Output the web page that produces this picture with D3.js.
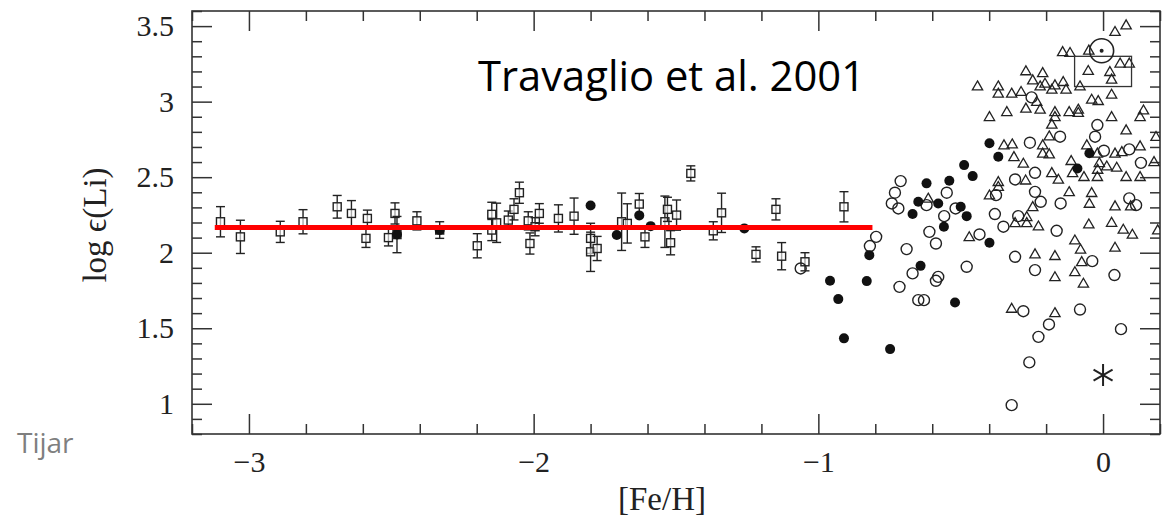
<!DOCTYPE html>
<html>
<head>
<meta charset="utf-8">
<script src="https://cdn.jsdelivr.net/npm/d3@7"></script>
<style>
  body { margin:0; background:#fff; }
  svg text { fill:#222; }
  .tick line { stroke:#333; stroke-width:1.5; }
  .tick text { font-family:"Liberation Serif", serif; font-size:30px; fill:#222; }
</style>
</head>
<body>
<div id="chart"></div>
<script>
// halo stars with error bars: [Fe/H], log eps(Li), error
var haloFe  = [-3.10,-3.03,-2.89,-2.81,-2.69,-2.64,-2.584,-2.589,-2.51,-2.487,-2.48,-2.41,-2.33,-2.198,-2.147,-2.147,-2.13,-2.089,-2.069,-2.05,-2.019,-2.013,-1.995,-1.98,-1.913,
               -1.858,-1.80,-1.80,-1.777,-1.691,-1.671,-1.629,-1.609,-1.539,-1.53,-1.498,-1.519,-1.448,-1.369,-1.34,-1.219,-1.149,-1.129,-1.047,-0.91];
var haloLi  = [2.205,2.105,2.138,2.205,2.304,2.26,2.227,2.095,2.10,2.26,2.12,2.211,2.15,2.046,2.254,2.15,2.198,2.216,2.287,2.397,2.211,2.061,2.172,2.26,2.227,
               2.242,2.095,2.006,2.028,2.205,2.194,2.322,2.105,2.205,2.287,2.249,2.066,2.525,2.145,2.264,1.989,2.287,1.977,1.94,2.304];
var haloErr = [0.10,0.11,0.07,0.08,0.075,0.085,0.055,0.06,0.055,0.07,0.12,0.06,0.055,0.08,0.08,0.07,0.13,0.06,0.07,0.07,0.06,0.07,0.06,0.065,0.09,
               0.12,0.10,0.13,0.08,0.19,0.13,0.07,0.07,0.17,0.08,0.10,0.08,0.05,0.06,0.13,0.05,0.07,0.09,0.06,0.10];

// filled circles
var filledFe = [-2.48,-2.33,-1.80,-1.708,-1.629,-1.589,-1.26,-0.959,-0.93,-0.91,-0.83,-0.821,-0.748,
                -0.399,-0.368,-0.488,-0.458,-0.54,-0.62,-0.649,-0.579,-0.669,-0.5,-0.479,-0.559,-0.399,-0.641,-0.52,-0.048,-0.09];
var filledLi = [2.12,2.15,2.313,2.117,2.247,2.176,2.161,1.814,1.693,1.433,1.812,1.984,1.362,
                2.724,2.635,2.58,2.507,2.476,2.459,2.337,2.326,2.256,2.304,2.242,2.172,2.066,1.913,1.671,2.658,2.558];

// open circles
var openFe = [-1.062,-0.819,-0.797,-0.715,-0.711,-0.731,-0.742,-0.719,-0.549,-0.62,-0.518,-0.558,-0.61,-0.587,-0.69,-0.479,-0.669,-0.579,-0.587,
              -0.649,-0.629,-0.434,-0.38,-0.35,-0.376,-0.309,-0.239,-0.239,-0.219,-0.298,-0.149,-0.163,-0.309,-0.239,-0.28,-0.19,-0.227,-0.259,-0.321,
              -0.081,-0.038,0.04,0.063,0.003,0.092,0.133,0.092,0.116,-0.257,-0.251,-0.02,-0.028,-0.151];
var openLi = [1.896,2.044,2.105,1.774,2.474,2.397,2.326,2.293,2.397,2.315,2.293,2.242,2.138,2.061,2.024,1.907,1.863,1.84,1.814,
              1.686,1.686,2.121,2.256,2.172,2.381,2.485,2.529,2.403,2.337,2.242,2.326,2.145,1.973,1.885,1.613,1.525,1.443,1.274,0.991,
              1.624,1.944,1.852,1.494,2.675,2.684,2.595,2.36,2.315,2.728,3.028,2.845,2.768,2.768];

// open triangles
var triFe = [0.081,0.042,-0.142,-0.116,-0.05,0.06,0.092,-0.052,0.024,0.03,-0.271,-0.212,-0.247,-0.221,-0.204,-0.18,-0.169,-0.14,-0.13,-0.081,
             -0.441,-0.368,-0.368,-0.321,-0.288,-0.233,-0.271,-0.221,-0.338,-0.399,-0.169,-0.169,-0.119,-0.087,-0.087,-0.18,-0.04,-0.017,0.03,0.03,
             0.142,0.13,0.081,0.186,-0.189,
             -0.348,-0.319,-0.313,-0.28,-0.272,-0.212,-0.212,-0.189,-0.18,-0.157,-0.112,-0.107,-0.067,-0.057,-0.02,-0.013,-0.019,0.013,-0.02,0.048,
             0.042,0.066,0.13,0.179,0.081,0.13,-0.368,-0.399,-0.368,-0.614,-0.47,-0.309,-0.268,-0.268,-0.247,-0.227,-0.119,-0.04,-0.048,0.042,
             0.097,-0.05,0.03,0.071,0.103,0.192,-0.239,-0.169,-0.099,-0.079,-0.075,0.042,-0.169,-0.099,-0.069,-0.321,-0.169];
var triLi = [3.507,3.463,3.33,3.324,3.34,3.254,3.254,3.205,3.198,3.148,3.203,3.191,3.143,3.103,3.121,3.081,3.11,3.132,3.081,3.103,
             3.103,3.103,3.055,3.055,3.066,3.0,2.956,2.949,2.933,2.9,2.933,2.9,2.933,2.949,2.927,2.85,3.015,3.006,3.048,2.9,
             2.944,2.9,2.812,2.768,2.772,
             2.713,2.719,2.635,2.591,2.48,2.713,2.658,2.653,2.529,2.485,2.609,2.529,2.503,2.713,2.658,2.595,2.551,2.573,2.503,2.565,
             2.658,2.668,2.706,2.602,2.503,2.503,2.47,2.381,2.437,2.36,2.105,2.198,2.198,2.238,2.304,2.176,2.403,2.397,2.326,2.309,
             2.309,2.189,2.2,2.154,2.121,2.15,1.991,1.98,2.083,2.022,1.94,2.035,1.84,1.873,1.797,1.631,1.602];

// special symbols
var sunFe = [-0.005], sunLi = [3.337];
var meteorFe = [-0.1, 0.1], meteorLi = [3.1, 3.3];
var starFe = [0.0], starLi = [1.19];

// Spite plateau line
var plateauFe = [-3.12, -0.81];
var plateauLi = [2.167, 2.167];

var xMajor = [-3, -2, -1, 0];
var yMajor = [1, 1.5, 2, 2.5, 3, 3.5];

var W = 1163, H = 517;
var pLeft = 192, pRight = 1160, pTop = 11, pBottom = 434;
var ink = '#222';

var svg = d3.select('#chart').append('svg').attr('width', W).attr('height', H);

var x = d3.scaleLinear().domain([-3.2, 0.2]).range([pLeft, pRight]);
var y = d3.scaleLinear().domain([0.8, 3.6]).range([pBottom, pTop]);

var xMinor = d3.range(-32, 3, 2).map(function(v){ return v/10; }).filter(function(v){ return Math.abs(v - Math.round(v)) > 1e-6; });
var yMinor = d3.range(8, 37, 1).map(function(v){ return v/10; }).filter(function(v){ return Math.abs(v*2 - Math.round(v*2)) > 1e-6; });

function addAxis(axis, tx, ty) {
    var g = svg.append('g').attr('transform', 'translate(' + tx + ',' + ty + ')').call(axis);
    g.select('.domain').remove();
    return g;
}
var fmt = d3.format('');
addAxis(d3.axisBottom(x).tickValues(xMajor).tickSizeInner(-20).tickSizeOuter(0).tickPadding(17).tickFormat(fmt), 0, pBottom);
addAxis(d3.axisBottom(x).tickValues(xMinor).tickSizeInner(-10).tickSizeOuter(0).tickFormat(''), 0, pBottom);
addAxis(d3.axisTop(x).tickValues(xMajor).tickSizeInner(-20).tickSizeOuter(0).tickFormat(''), 0, pTop);
addAxis(d3.axisTop(x).tickValues(xMinor).tickSizeInner(-10).tickSizeOuter(0).tickFormat(''), 0, pTop);
addAxis(d3.axisLeft(y).tickValues(yMajor).tickSizeInner(-20).tickSizeOuter(0).tickPadding(18).tickFormat(fmt), pLeft, 0);
addAxis(d3.axisLeft(y).tickValues(yMinor).tickSizeInner(-10).tickSizeOuter(0).tickFormat(''), pLeft, 0);
addAxis(d3.axisRight(y).tickValues(yMajor).tickSizeInner(-20).tickSizeOuter(0).tickFormat(''), pRight, 0);
addAxis(d3.axisRight(y).tickValues(yMinor).tickSizeInner(-10).tickSizeOuter(0).tickFormat(''), pRight, 0);

svg.append('rect')
    .attr('x', pLeft).attr('y', pTop)
    .attr('width', pRight - pLeft).attr('height', pBottom - pTop)
    .style('fill', 'none').style('stroke', '#333').style('stroke-width', 1.6);

svg.append('clipPath').attr('id', 'clip').append('rect')
    .attr('x', pLeft).attr('y', pTop).attr('width', pRight - pLeft).attr('height', pBottom - pTop);
var plot = svg.append('g').attr('clip-path', 'url(#clip)');

// error bars + squares
var halo = haloFe.map(function(d, i){ return {fe: d, li: haloLi[i], err: haloErr[i]}; });
var eb = plot.append('g').selectAll('g').data(halo).enter().append('g')
    .style('stroke', ink).style('stroke-width', 1.4).style('fill', 'none');
eb.append('line')
    .attr('x1', function(d){ return x(d.fe); }).attr('x2', function(d){ return x(d.fe); })
    .attr('y1', function(d){ return y(d.li - d.err); }).attr('y2', function(d){ return y(d.li + d.err); });
eb.append('line')
    .attr('x1', function(d){ return x(d.fe) - 4.5; }).attr('x2', function(d){ return x(d.fe) + 4.5; })
    .attr('y1', function(d){ return y(d.li - d.err); }).attr('y2', function(d){ return y(d.li - d.err); });
eb.append('line')
    .attr('x1', function(d){ return x(d.fe) - 4.5; }).attr('x2', function(d){ return x(d.fe) + 4.5; })
    .attr('y1', function(d){ return y(d.li + d.err); }).attr('y2', function(d){ return y(d.li + d.err); });
eb.append('rect')
    .attr('x', function(d){ return x(d.fe) - 4; }).attr('y', function(d){ return y(d.li) - 4; })
    .attr('width', 8).attr('height', 8).style('fill', 'rgba(255,255,255,0.6)');

// open circles
plot.append('g').selectAll('circle').data(openFe).enter().append('circle')
    .attr('cx', function(d){ return x(d); })
    .attr('cy', function(d, i){ return y(openLi[i]); })
    .attr('r', 5.5)
    .style('fill', 'none').style('stroke', ink).style('stroke-width', 1.4);

// triangles
var tri = d3.symbol().type(d3.symbolTriangle).size(46);
plot.append('g').selectAll('path').data(triFe).enter().append('path')
    .attr('d', tri)
    .attr('transform', function(d, i){ return 'translate(' + x(d) + ',' + (y(triLi[i]) + 0.8) + ')'; })
    .style('fill', 'none').style('stroke', ink).style('stroke-width', 1.3);

// filled circles
plot.append('g').selectAll('circle').data(filledFe).enter().append('circle')
    .attr('cx', function(d){ return x(d); })
    .attr('cy', function(d, i){ return y(filledLi[i]); })
    .attr('r', 5)
    .style('fill', '#111');

// meteoritic box
plot.append('rect')
    .attr('x', x(meteorFe[0])).attr('y', y(meteorLi[1]))
    .attr('width', x(meteorFe[1]) - x(meteorFe[0])).attr('height', y(meteorLi[0]) - y(meteorLi[1]))
    .style('fill', 'none').style('stroke', '#333').style('stroke-width', 1.3);

// sun
plot.append('circle').attr('cx', x(sunFe[0])).attr('cy', y(sunLi[0])).attr('r', 12)
    .style('fill', 'none').style('stroke', ink).style('stroke-width', 1.6);
plot.append('circle').attr('cx', x(sunFe[0])).attr('cy', y(sunLi[0])).attr('r', 2).style('fill', ink);

// asterisk
plot.append('path')
    .attr('d', d3.symbol().type(d3.symbolAsterisk).size(340))
    .attr('transform', 'translate(' + x(starFe[0]) + ',' + y(starLi[0]) + ')')
    .style('fill', 'none').style('stroke', ink).style('stroke-width', 2);

// red plateau line
svg.append('line')
    .attr('x1', x(plateauFe[0])).attr('x2', x(plateauFe[1]))
    .attr('y1', y(plateauLi[0])).attr('y2', y(plateauLi[1]))
    .style('stroke', '#ff0000').style('stroke-width', 5);

// labels
svg.append('text')
    .attr('transform', 'translate(106,225) rotate(-90)')
    .attr('text-anchor', 'middle')
    .style('font-family', '"Liberation Serif", serif').style('font-size', '33px')
    .text('log \u03f5(Li)');

svg.append('text')
    .attr('x', 662).attr('y', 510)
    .attr('text-anchor', 'middle')
    .style('font-family', '"Liberation Serif", serif').style('font-size', '33px')
    .text('[Fe/H]');

svg.append('text')
    .attr('x', 478).attr('y', 91)
    .attr('textLength', 387).attr('lengthAdjust', 'spacingAndGlyphs')
    .style('font-family', '"Open Sans", sans-serif').style('font-size', '42px').style('fill', '#000')
    .text('Travaglio et al. 2001');

svg.append('text')
    .attr('x', 17).attr('y', 453)
    .style('font-family', '"Open Sans", sans-serif').style('font-size', '28px').style('fill', '#7f7f7f')
    .text('Tijar');
</script>
</body>
</html>
